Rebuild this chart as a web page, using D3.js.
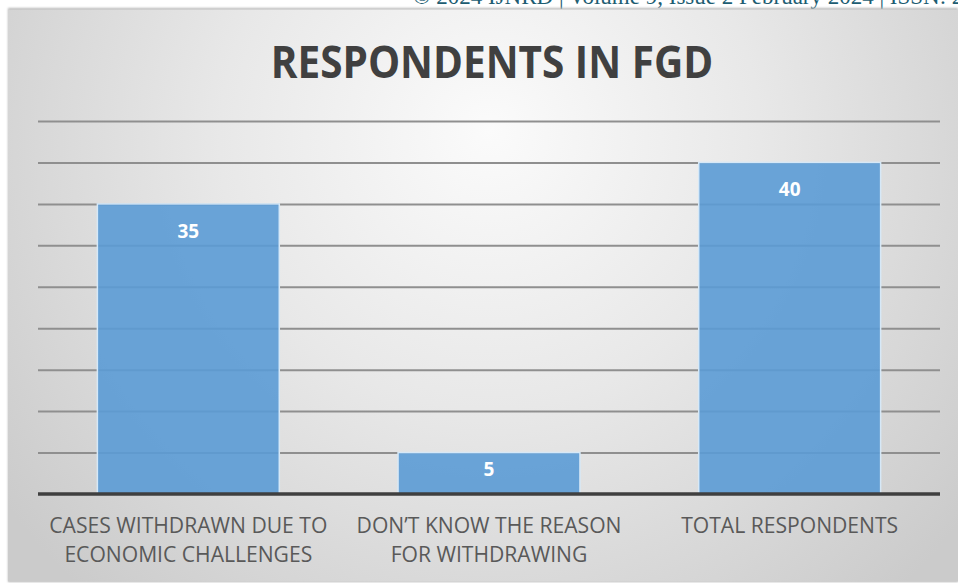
<!DOCTYPE html>
<html>
<head>
<meta charset="utf-8">
<script src="https://cdn.jsdelivr.net/npm/d3@7"></script>
<style>
  html, body { margin: 0; padding: 0; background: #ffffff; overflow: hidden; }
  svg { display: block; }
</style>
</head>
<body>
<svg id="chart" width="958" height="583"></svg>
<script>
// Chart data
const categories = [
  "CASES WITHDRAWN DUE TO\nECONOMIC CHALLENGES",
  "DON’T KNOW THE REASON\nFOR WITHDRAWING",
  "TOTAL RESPONDENTS"
];
const values = [35, 5, 40];
const yTicks = [0, 5, 10, 15, 20, 25, 30, 35, 40, 45];
const chartTitle = "RESPONDENTS IN FGD";
const headerText = "© 2024 IJNRD | Volume 9, Issue 2 February 2024 | ISSN: 2456-4184 | IJNRD.ORG";

const svg = d3.select("#chart");
const W = 958, H = 583;

// Background panel with a soft radial shading
const defs = svg.append("defs");
const bg = defs.append("radialGradient")
  .attr("id", "panelShade")
  .attr("gradientUnits", "userSpaceOnUse")
  .attr("cx", 490).attr("cy", 150).attr("r", 600)
  .attr("fx", 490).attr("fy", 130);
bg.append("stop").attr("offset", "0%").attr("stop-color", "#fbfbfb");
bg.append("stop").attr("offset", "45%").attr("stop-color", "#e8e8e8");
bg.append("stop").attr("offset", "100%").attr("stop-color", "#cbcbcb");

const shadow = defs.append("filter").attr("id", "topShadow")
  .attr("x", "-5%").attr("y", "-5%").attr("width", "110%").attr("height", "110%");
shadow.append("feGaussianBlur").attr("stdDeviation", 1.2);

// Journal header line (runs off the page edge)
svg.append("text")
  .attr("x", 413).attr("y", 4)
  .attr("font-family", "'Liberation Serif', 'DejaVu Serif', serif")
  .attr("font-size", 23)
  .attr("fill", "#1d5d72")
  .text(headerText);

// Panel
svg.append("rect")
  .attr("x", 8).attr("y", 8).attr("width", W - 8).attr("height", 574)
  .attr("fill", "#b8b8b8").attr("filter", "url(#topShadow)");
svg.append("rect")
  .attr("x", 8).attr("y", 9.5).attr("width", W - 8).attr("height", 572)
  .attr("fill", "url(#panelShade)");

// Scales
const plot = { left: 38, right: 940, top: 121, bottom: 494 };
const x = d3.scaleBand()
  .domain(categories)
  .range([plot.left, plot.right])
  .paddingInner(0.395)
  .paddingOuter(0.1975);
const y = d3.scaleLinear()
  .domain([0, d3.max(yTicks)])
  .range([plot.bottom, plot.top]);

// Gridlines
const gridAxis = d3.axisLeft(y)
  .tickValues(yTicks.filter(v => v > 0))
  .tickSize(-(plot.right - plot.left))
  .tickFormat("");
const grid = svg.append("g")
  .attr("transform", `translate(${plot.left},0)`)
  .call(gridAxis);
grid.select(".domain").remove();
grid.selectAll(".tick line")
  .attr("stroke", "#8f8f8f")
  .attr("stroke-width", 2);

// Bars
const bars = svg.append("g");
bars.selectAll("rect")
  .data(values)
  .join("rect")
  .attr("x", (d, i) => x(categories[i]))
  .attr("y", d => y(d))
  .attr("width", x.bandwidth())
  .attr("height", d => y(0) - y(d))
  .attr("fill", "#5b9bd5")
  .attr("fill-opacity", 0.9)
  .attr("stroke", "#d6e8f7")
  .attr("stroke-width", 1.5);

// Value labels inside bar tops
svg.append("g").selectAll("text")
  .data(values)
  .join("text")
  .attr("x", (d, i) => x(categories[i]) + x.bandwidth() / 2)
  .attr("y", d => y(d) + Math.min(34, (y(0) - y(d)) * 0.57))
  .attr("text-anchor", "middle")
  .attr("font-family", "'Open Sans', 'DejaVu Sans', sans-serif")
  .attr("font-weight", "bold")
  .attr("font-size", 19)
  .attr("fill", "#ffffff")
  .text(d => d);

// Baseline (category axis)
const xAxis = d3.axisBottom(x).tickSize(0).tickFormat("");
const axisG = svg.append("g")
  .attr("transform", `translate(0,${y(0)})`)
  .call(xAxis);
axisG.select(".domain")
  .attr("stroke", "#3f3f3f")
  .attr("stroke-width", 3.5)
  .attr("d", `M${plot.left},0H${plot.right}`);

// Category labels, wrapped on line breaks
const catG = svg.append("g");
categories.forEach(c => {
  const lines = c.split("\n");
  const t = catG.append("text")
    .attr("text-anchor", "middle")
    .attr("font-family", "'Open Sans', 'DejaVu Sans', sans-serif")
    .attr("font-size", 22)
    .attr("fill", "#595959")
    .attr("transform", `translate(${x(c) + x.bandwidth() / 2},0) scale(0.96,1)`);
  lines.forEach((ln, k) => {
    t.append("tspan").attr("x", 0).attr("y", 533 + k * 29).text(ln);
  });
});

// Title
svg.append("text")
  .attr("text-anchor", "middle")
  .attr("font-family", "'Open Sans', 'DejaVu Sans', sans-serif")
  .attr("font-weight", "bold")
  .attr("font-size", 45)
  .attr("fill", "#404040")
  .attr("transform", "translate(492,78) scale(0.9,1)")
  .attr("x", 0).attr("y", 0)
  .text(chartTitle);
</script>
</body>
</html>
